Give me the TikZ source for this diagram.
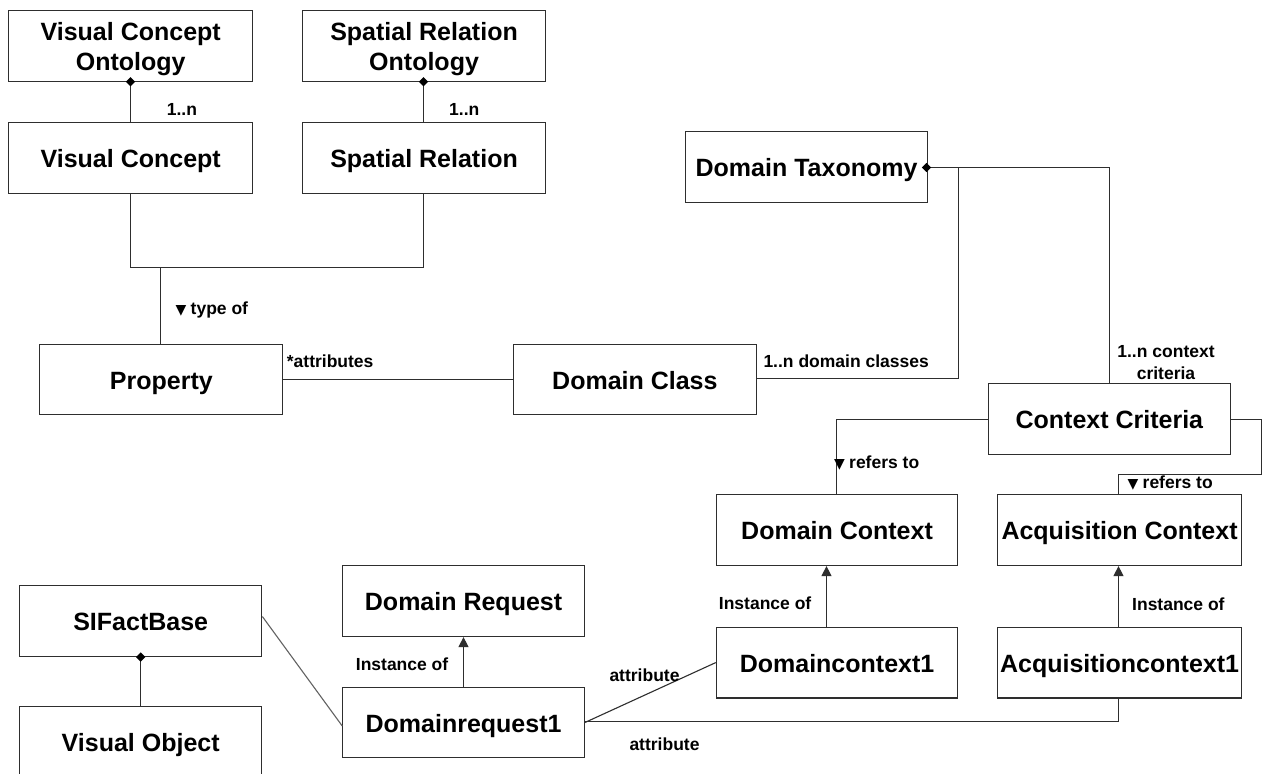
\documentclass[tikz,border=0pt]{standalone}
\usepackage{fontspec}
\setmainfont{Liberation Sans}
\newfontfamily\symfont{DejaVu Sans}
\usetikzlibrary{arrows.meta,shapes.geometric}
\definecolor{ln}{gray}{0.18}
\tikzset{
 box/.style={draw=ln,line width=1.1pt,fill=white,inner sep=0pt,align=center,text height=19pt,text depth=0pt,font=\fontsize{25}{30}\selectfont\bfseries},
 twoline/.style={text height=49.300pt,text depth=0pt},
 lab/.style={inner sep=0pt,font=\fontsize{17.5}{21.5}\selectfont\bfseries,align=left,anchor=west},
 conn/.style={draw=ln,line width=1.1pt},
 dia/.style={diamond,fill=black,inner sep=0pt,minimum size=9.500pt,draw=none},
 arr/.style={conn,-{Triangle[length=10pt,width=10pt]}}
}
\newcommand{\bx}[7][]{\node[box,#1,minimum width=#4pt,minimum height=#5pt,anchor=north west] (#2) at (#6pt,-#7pt) {#3};}
\newcommand{\dn}{\makebox[15pt][l]{\fontsize{14}{14}\symfont ▼}}
\begin{document}
\begin{tikzpicture}[x=1pt,y=1pt]
\useasboundingbox (0,0) rectangle (1262,-774);
\fill[white] (0,0) rectangle (1262,-774);
\bx[twoline]{vco}{Visual Concept\\Ontology}{243.700}{70.700}{8.300}{10}
\bx[twoline]{sro}{Spatial Relation\\Ontology}{243}{70.700}{302}{10}
\bx{vc}{Visual Concept}{243.700}{70.700}{8.300}{122}
\bx{sr}{Spatial Relation}{243}{70.700}{302}{122}
\bx{dt}{Domain Taxonomy}{242}{71}{685}{131}
\bx{prop}{Property}{243}{70.500}{39.300}{343.700}
\bx{dc}{Domain Class}{243.300}{70.500}{512.700}{343.700}
\bx{cc}{Context Criteria}{241.700}{70.700}{988}{383.300}
\bx{domc}{Domain Context}{241.600}{70.700}{715.700}{494.300}
\bx{acqc}{Acquisition Context}{243.400}{70.700}{997.300}{494.300}
\bx{dreq}{Domain Request}{241.400}{71}{342.300}{565}
\bx{sif}{SIFactBase}{242.300}{71}{19}{585}
\bx{dc1}{Domaincontext1}{241.600}{70.700}{715.700}{626.700}
\bx{ac1}{Acquisitioncontext1}{243.400}{70.700}{997.300}{626.700}
\bx{dr1}{Domainrequest1}{241.400}{70.600}{342.300}{686.700}
\bx{vo}{Visual Object}{242.300}{71}{19}{706}
\coordinate (jl) at (130.500,-267.500);
\coordinate (jr) at (423.500,-267.500);
\coordinate (jp) at (160.500,-267.500);
\draw[conn] (vco.south -| jl) -- (vc.north -| jl);
\draw[conn] (sro.south -| jr) -- (sr.north -| jr);
\draw[conn] (vc.south -| jl) -- (jl) -- (jr) -- (sr.south -| jr);
\draw[conn] (jp) -- (prop.north -| jp);
\draw[conn] (prop.east) -- (dc.west);
\coordinate (t1) at (958.500,-167.500);
\coordinate (t2) at (958.500,-378.500);
\coordinate (t3) at (1109.500,-167.500);
\draw[conn] (dt.east |- t1) -- (t3) -- (cc.north -| t3);
\draw[conn] (t1) -- (t2) -- (dc.east |- t2);
\coordinate (a1) at (836.500,-419.500);
\draw[conn] (cc.west |- a1) -- (a1) -- (domc.north -| a1);
\coordinate (b1) at (1261.300,-419.500);
\coordinate (b2) at (1261.300,-474.500);
\coordinate (b3) at (1118.500,-474.500);
\draw[conn] (cc.east |- b1) -- (b1) -- (b2) -- (b3) -- (acqc.north -| b3);
\coordinate (u1) at (826.500,-600);
\coordinate (u2) at (463.500,-660);
\draw[arr] (dc1.north -| u1) -- (domc.south -| u1);
\draw[arr] (ac1.north -| b3) -- (acqc.south -| b3);
\draw[arr] (dr1.north -| u2) -- (dreq.south -| u2);
\draw[conn,draw=ln!75] ([yshift=4.500pt]sif.east) -- ([yshift=-3.500pt]dr1.west);
\draw[conn] (sif.south) -- (vo.north);
\draw[conn] (dr1.east) -- (dc1.west);
\coordinate (c1) at (1118.500,-721.500);
\draw[conn] (dr1.east |- c1) -- (c1) -- (ac1.south -| c1);
\node[dia] (d1) at (vco.south -| jl) {};
\node[dia] (d2) at (sro.south -| jr) {};
\node[dia] (d3) at (sif.south) {};
\node[dia] (d4) at (926.500,-167.500) {};
\node[lab] (l1) at (166.700,-109) {1..n};
\node[lab] (l2) at (449,-109) {1..n};
\node[lab] (l3) at (175.500,-310) {\dn type of};
\node[lab] (l4) at (286.700,-361) {*attributes};
\node[lab] (l5) at (763.300,-361) {1..n domain classes};
\node[lab,anchor=center,align=center] (l6) at (1166,-362.500) {1..n context\\criteria};
\node[lab] (l7) at (834,-462.700) {\dn refers to};
\node[lab] (l8) at (1127.500,-482.700) {\dn refers to};
\node[lab] (l9) at (718.700,-603) {Instance of};
\node[lab] (l10) at (1132,-604) {Instance of};
\node[lab] (l11) at (355.700,-664) {Instance of};
\node[lab] (l12) at (609.300,-675) {attribute};
\node[lab] (l13) at (629.300,-744) {attribute};
\end{tikzpicture}
\end{document}
